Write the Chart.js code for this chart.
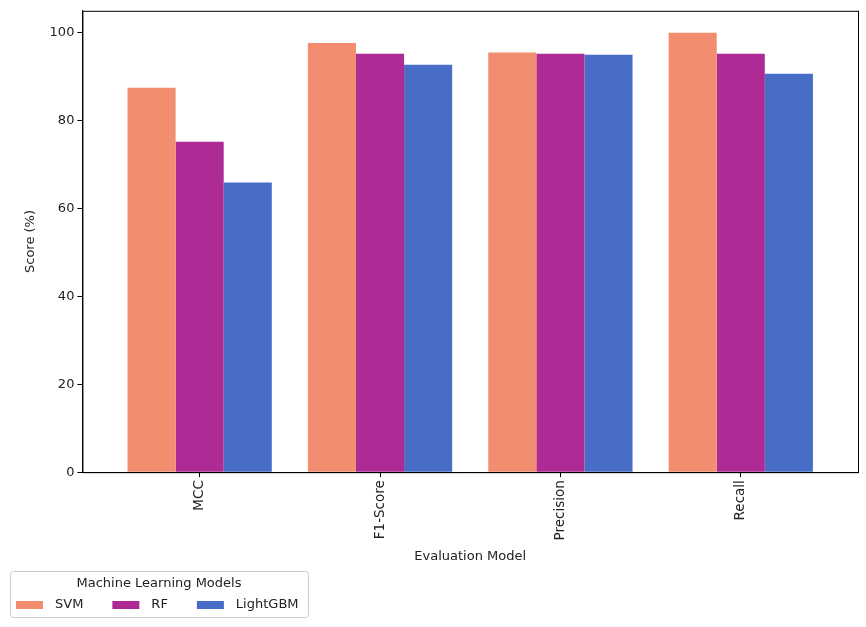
<!DOCTYPE html>
<html>
<head>
<meta charset="utf-8">
<script src="https://cdn.jsdelivr.net/npm/chart.js@4/dist/chart.umd.min.js"></script>
<style>
  html, body { margin:0; padding:0; background:#fff; }
  #wrap { width:866px; height:627px; }
</style>
</head>
<body>
<div id="wrap"><canvas id="chart" width="866" height="627"></canvas></div>
<script>
// ---- data ----
const metrics = ['MCC', 'F1-Score', 'Precision', 'Recall'];
const svmScores = [87.5, 97.7, 95.5, 100.0];
const rfScores = [75.2, 95.2, 95.2, 95.2];
const lgbmScores = [65.9, 92.7, 95.0, 90.7];
const yTicks = [0, 20, 40, 60, 80, 100];

const FONT = 'DejaVu Sans';
const TXT = '#222';

// metric index -> position on the x axis
const toPoints = vals => vals.map((v, i) => ({x:i, y:v}));

// frame round the plot + matplotlib-like legend below it
const framePlugin = {
  id:'frame',
  afterDraw(chart){
    const {ctx, chartArea:a} = chart;
    ctx.save();
    ctx.strokeStyle = '#000';
    ctx.lineWidth = 1;
    ctx.strokeRect(a.left + .5, a.top + .5, a.right - a.left, a.bottom - a.top);

    // legend
    const x0 = 10, y0 = chart.height - 56, w = 298, h = 46;
    ctx.strokeStyle = '#cccccc';
    ctx.beginPath();
    ctx.roundRect(x0 + .5, y0 + .5, w, h, 3);
    ctx.stroke();
    ctx.font = '13px "' + FONT + '"';
    ctx.fillStyle = TXT;
    ctx.textBaseline = 'middle';
    ctx.textAlign = 'center';
    ctx.fillText('Machine Learning Models', x0 + w/2, y0 + 13);
    ctx.textAlign = 'left';
    let x = x0 + 6;
    const yRow = y0 + 34;
    chart.data.datasets.forEach(ds => {
      ctx.fillStyle = ds.backgroundColor;
      ctx.fillRect(x, yRow - 4, 27, 8);
      x += 27 + 12;
      ctx.fillStyle = TXT;
      ctx.fillText(ds.label, x, yRow);
      x += ctx.measureText(ds.label).width + 29;
    });
    ctx.restore();
  }
};

new Chart(document.getElementById('chart').getContext('2d'), {
  type:'bar',
  data:{
    datasets:[
      {label:'SVM', data:toPoints(svmScores), backgroundColor:'#f28d70'},
      {label:'RF', data:toPoints(rfScores), backgroundColor:'#ae2a94'},
      {label:'LightGBM', data:toPoints(lgbmScores), backgroundColor:'#486dc6'}
    ]
  },
  options:{
    responsive:false, animation:false,
    layout:{ padding:{left:23, right:8, top:10, bottom:59} },
    datasets:{ bar:{ categoryPercentage:0.8, barPercentage:1.0, borderWidth:0 } },
    plugins:{
      tooltip:{enabled:false},
      legend:{ display:false }
    },
    scales:{
      x:{
        type:'linear', offset:false,
        min:-0.65, max:metrics.length - 1 + 0.65,
        afterBuildTicks(scale){ scale.ticks = metrics.map((_, i) => ({value:i})); },
        grid:{ display:true, drawOnChartArea:false, offset:false, tickLength:5, color:'#000' },
        border:{ color:'#000' },
        ticks:{ color:TXT, minRotation:90, maxRotation:90, font:{family:FONT, size:13.5}, padding:3,
                callback:v => metrics[v] },
        title:{ display:true, text:'Evaluation Model', color:TXT, font:{family:FONT, size:13}, padding:{top:5, bottom:4} }
      },
      y:{
        min:0, max:105,
        afterBuildTicks(scale){ scale.ticks = yTicks.map(v => ({value:v})); },
        grid:{ display:true, drawOnChartArea:false, tickLength:5, color:'#000' },
        border:{ color:'#000' },
        ticks:{ color:TXT, font:{family:FONT, size:13}, padding:3 },
        title:{ display:true, text:'Score (%)', color:TXT, font:{family:FONT, size:13}, padding:{top:0, bottom:8} }
      }
    }
  },
  plugins:[framePlugin]
});
</script>
</body>
</html>
